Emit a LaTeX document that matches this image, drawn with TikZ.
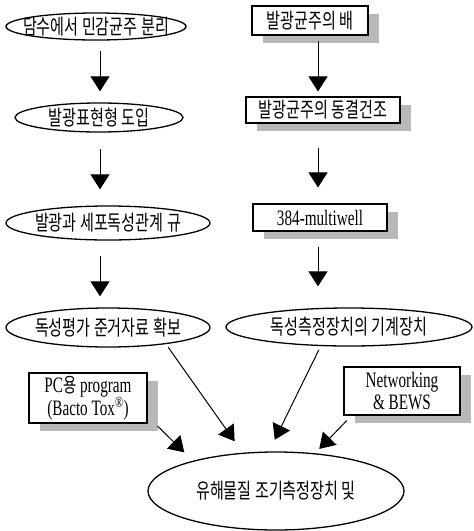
\documentclass[tikz,border=0pt]{standalone}
\usepackage{fontspec}
\setmainfont[FakeStretch=0.69]{Liberation Serif}
\newfontfamily\krfont[FakeStretch=0.72]{Noto Sans CJK KR}
\usetikzlibrary{shapes.geometric,arrows.meta,shadows,calc}
\begin{document}
\begin{tikzpicture}[x=1pt,y=1pt,
  krtxt/.style={font=\krfont\fontsize{21}{22}\selectfont},
  lattxt/.style={font=\fontsize{22}{22}\selectfont},
  ell/.style={ellipse, draw, line width=1.3pt, inner sep=0pt},
  boxnode/.style={rectangle, draw, line width=1.1pt, fill=white, inner sep=0pt,
    general shadow={fill=black!28, shadow xshift=11pt, shadow yshift=-8pt}},
  arr/.style={-{Triangle[length=15pt,width=19pt]}, line width=1pt}]
\fill[white] (0,0) rectangle (474,-531);
\useasboundingbox (0,0) rectangle (474,-531);
\coordinate (colL) at (100,0);
\coordinate (colR) at (318,0);
% left column
\node[ell, minimum width=180pt, minimum height=27pt,
  label={[krtxt]center:담수에서 민감균주 분리}] (E1) at (96,-26.5) {};
\node[ell, minimum width=168pt, minimum height=29pt,
  label={[krtxt]center:발광표현형 도입}] (E2) at (99,-117.5) {};
\node[ell, minimum width=204pt, minimum height=34pt,
  label={[krtxt]center:발광과 세포독성관계 규}] (E3) at (108,-223) {};
\node[ell, minimum width=204pt, minimum height=39pt,
  label={[krtxt]center:독성평가 준거자료 확보}] (E4) at (108,-327.5) {};
% right column
\node[boxnode, krtxt, minimum width=116pt, minimum height=29pt] (R1) at (310,-20.5) {발광균주의 배};
\node[boxnode, krtxt, minimum width=154pt, minimum height=26pt] (R2) at (323,-110) {발광균주의 동결건조};
\node[boxnode, lattxt, minimum width=134pt, minimum height=27pt] (R3) at (320,-217.5) {384-multiwell};
\node[ell, minimum width=246pt, minimum height=38pt,
  label={[krtxt]center:독성측정장치의 기계장치}] (R4) at (349,-327) {};
% side boxes
\node[boxnode, lattxt, align=center, minimum width=118pt, minimum height=50pt] (PC) at (88,-398)
  {PC{\krfont\fontsize{20}{22}\selectfont 용} program\\(Bacto Tox\textsuperscript{®})};
\node[boxnode, lattxt, align=center, minimum width=116pt, minimum height=48pt] (Net) at (402,-391)
  {Networking\\\& BEWS};
% final ellipse
\node[ell, minimum width=256pt, minimum height=78pt,
  label={[krtxt]center:유해물질 조기측정장치 및}] (F) at (276,-491) {};
% vertical arrows
\draw[arr, shorten <=10pt, shorten >=11pt] (E1.south -| colL) -- (E2.north -| colL);
\draw[arr, shorten <=16pt, shorten >=16pt] (E2.south -| colL) -- (E3.north -| colL);
\draw[arr, shorten <=15pt, shorten >=11pt] (E3.south -| colL) -- (E4.north -| colL);
\draw[arr, shorten <=5pt, shorten >=5pt] (R1.south -| colR) -- (R2.north -| colR);
\draw[arr, shorten <=24pt, shorten >=16pt] (R2.south -| colR) -- (R3.north -| colR);
\draw[arr, shorten <=15pt, shorten >=21pt] (R3.south -| colR) -- (R4.north -| colR);
% converging arrows
\draw[arr, shorten <=4pt, shorten >=14pt] (E4.-16) -- (F.131);
\draw[arr, shorten <=4pt, shorten >=13pt] (R4.-146) -- (F.100);
\draw[arr, shorten <=14pt, shorten >=12pt] (PC.-17) -- (F.160);
\draw[arr, shorten <=7pt, shorten >=6pt] (Net.-154) -- (F.44);
\end{tikzpicture}
\end{document}
